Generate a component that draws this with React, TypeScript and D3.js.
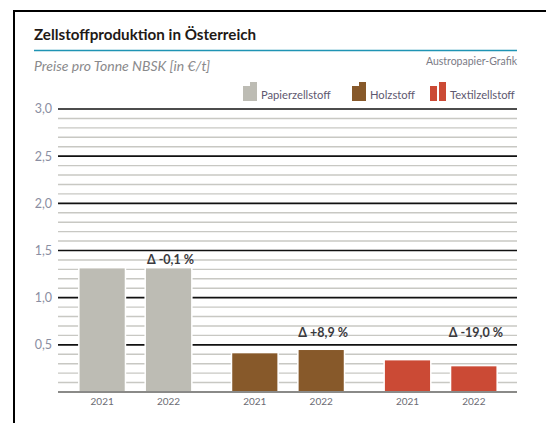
import React from "react";
import * as d3 from "d3";

const groups = ["Papierzellstoff", "Holzstoff", "Textilzellstoff"];
const years = ["2021", "2022"];
const values2021 = [1.31, 0.41, 0.335];
const values2022 = [1.31, 0.445, 0.272];
const changeLabels = ["Δ -0,1 %", "Δ +8,9 %", "Δ -19,0 %"];
const changeLabelValue = [1.357, 0.583, 0.583];
const majorTicks = [0.5, 1.0, 1.5, 2.0, 2.5, 3.0];
const majorTickLabels = ["0,5", "1,0", "1,5", "2,0", "2,5", "3,0"];
const colors = ["#bdbcb4", "#87592a", "#cb4a35"];

const W = 546;
const H = 423;
const FONT = "Lato, 'Open Sans', sans-serif";

export default function App() {
  const left = 58;
  const right = 517;
  const y = d3.scaleLinear().domain([0, 3]).range([392, 109]);
  const x0 = d3.scaleBand<string>().domain(groups).range([left + 1, right]).paddingInner(0).paddingOuter(0);
  const x1 = d3
    .scaleBand<string>()
    .domain(years)
    .range([0, x0.bandwidth()])
    .paddingInner(0.32)
    .paddingOuter(0.31);

  const minorTicks = d3.range(1, 30).map((i) => i / 10).filter((v) => Math.abs(v * 2 - Math.round(v * 2)) > 1e-6);

  const legendX = [243, 352, 430];

  const bars: { g: number; yr: number; v: number }[] = [];
  groups.forEach((g, gi) => {
    bars.push({ g: gi, yr: 0, v: values2021[gi] });
    bars.push({ g: gi, yr: 1, v: values2022[gi] });
  });

  return (
    <svg
      width={W}
      height={H}
      viewBox={`0 0 ${W} ${H}`}
      style={{ position: "absolute", left: 0, top: 0, background: "#fff" }}
      fontFamily={FONT}
    >
      <rect x={0} y={0} width={W} height={H} fill="#fff" />
      {/* frame */}
      <line x1={14} x2={W} y1={11} y2={11} stroke="#000" strokeWidth={2} />
      <line x1={14} x2={14} y1={10} y2={H} stroke="#000" strokeWidth={2} />

      {/* title */}
      <text x={34} y={40} fontSize={15.2} fontWeight={700} fill="#1f1a17">
        Zellstoffproduktion in Österreich
      </text>
      <line x1={34} x2={right} y1={50.5} y2={50.5} stroke="#1f94b4" strokeWidth={1.6} />
      <text x={34} y={71} fontSize={14} fontStyle="italic" fill="#8a8a8c">
        Preise pro Tonne NBSK [in €/t]
      </text>
      <text x={right} y={65} fontSize={10.5} fill="#7b7b86" textAnchor="end">
        Austropapier-Grafik
      </text>

      {/* legend */}
      {groups.map((g, i) => {
        const lx = legendX[i];
        const bottom = 101;
        const gap = i === 2 ? 2 : 0;
        return (
          <g key={g}>
            <rect x={lx} y={86} width={7} height={bottom - 86} fill={colors[i]} />
            <rect x={lx + 7 + gap} y={82} width={7} height={bottom - 82} fill={colors[i]} />
            <text x={lx + 18 + gap} y={99} fontSize={11.2} fill="#5e5870">
              {g}
            </text>
          </g>
        );
      })}

      {/* minor grid */}
      {minorTicks.map((t) => (
        <line key={"m" + t} x1={left} x2={right} y1={y(t)} y2={y(t)} stroke="#c8c8c3" strokeWidth={1.4} />
      ))}
      {/* major grid */}
      {majorTicks.map((t, i) => (
        <g key={"M" + t}>
          <line x1={left} x2={right} y1={y(t)} y2={y(t)} stroke="#111" strokeWidth={1.6} />
          <text x={52} y={y(t)} dy="0.35em" fontSize={12.5} fill="#8a8ea2" textAnchor="end">
            {majorTickLabels[i]}
          </text>
        </g>
      ))}
      {/* baseline */}
      <line x1={left} x2={right} y1={y(0)} y2={y(0)} stroke="#8a8a88" strokeWidth={2} />

      {/* bars */}
      {bars.map((b) => {
        const bx = (x0(groups[b.g]) as number) + (x1(years[b.yr]) as number);
        const bw = x1.bandwidth();
        const top = y(b.v);
        return (
          <g key={b.g + "-" + b.yr}>
            <rect x={bx - 1.5} y={top - 1.5} width={bw + 3} height={y(0) - top + 0.5} fill="#fff" />
            <rect x={bx} y={top} width={bw} height={y(0) - top - 1} fill={colors[b.g]} />
            <text x={bx + bw / 2} y={405} fontSize={10} fill="#6c6c74" textAnchor="middle">
              {years[b.yr]}
            </text>
          </g>
        );
      })}

      {/* change labels */}
      {groups.map((g, i) => {
        const bx = (x0(g) as number) + (x1(years[1]) as number) + x1.bandwidth() / 2 + 2;
        return (
          <text
            key={"c" + g}
            x={bx}
            y={y(changeLabelValue[i])}
            fontSize={12.5}
            fontWeight={700}
            fill="#3a3a3e"
            textAnchor="middle"
          >
            {changeLabels[i]}
          </text>
        );
      })}
    </svg>
  );
}
